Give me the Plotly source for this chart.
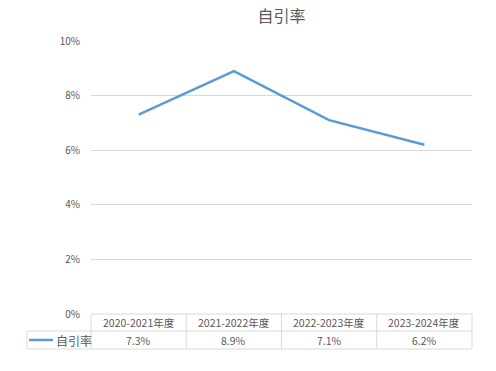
import plotly.graph_objects as go

categories = ["2020-2021年度", "2021-2022年度", "2022-2023年度", "2023-2024年度"]
values = [0.073, 0.089, 0.071, 0.062]
series_name = "自引率"
y_ticks = [0, 0.02, 0.04, 0.06, 0.08, 0.10]
y_tick_labels = ["0%", "2%", "4%", "6%", "8%", "10%"]

W, H = 496, 371
# desired page-pixel plot area (body margin removed via post_script)
PL, PR, PT, PB = 91, 472, 41, 314
L, T = PL, PT
R = W - PR
B = H - PB
pw, ph = W - L - R, H - T - B

def px_x(p):
    return (p - PL) / pw

def px_y(p):
    return (PB - p) / ph

line_color = "#5B9BD5"
grid_color = "#D9D9D9"
text_color = "#595959"
font_family = "Noto Sans CJK SC, Liberation Sans, sans-serif"

fig = go.Figure()
fig.add_trace(go.Scatter(
    x=list(range(len(categories))), y=values, mode="lines", name=series_name,
    line=dict(color=line_color, width=2.5), hoverinfo="skip", showlegend=False,
))

n = len(categories)
shapes = []
annotations = []
row1_top, row1_bot, row2_bot = px_y(314), px_y(331), px_y(349)
left_edge = px_x(27)
for yv, x0 in [(row1_top, 0), (row1_bot, left_edge), (row2_bot, left_edge)]:
    shapes.append(dict(type="line", xref="paper", yref="paper", x0=x0, x1=1, y0=yv, y1=yv,
                       line=dict(color=grid_color, width=1)))
for i in range(n + 1):
    xv = i / n
    shapes.append(dict(type="line", xref="paper", yref="paper", x0=xv, x1=xv, y0=row1_top, y1=row2_bot,
                       line=dict(color=grid_color, width=1)))
shapes.append(dict(type="line", xref="paper", yref="paper", x0=left_edge, x1=left_edge, y0=row1_bot, y1=row2_bot,
                   line=dict(color=grid_color, width=1)))
shapes.append(dict(type="line", xref="paper", yref="paper", x0=px_x(29), x1=px_x(53),
                   y0=(row1_bot + row2_bot) / 2, y1=(row1_bot + row2_bot) / 2,
                   line=dict(color=line_color, width=2.5)))
annotations.append(dict(xref="paper", yref="paper", x=px_x(54), y=(row1_bot + row2_bot) / 2,
                        text=series_name, showarrow=False, xanchor="left", yanchor="middle",
                        font=dict(size=12, color=text_color, family=font_family)))
for i, (c, v) in enumerate(zip(categories, values)):
    xc = (i + 0.5) / n
    annotations.append(dict(xref="paper", yref="paper", x=xc, y=(row1_top + row1_bot) / 2,
                            text=c, showarrow=False, xanchor="center", yanchor="middle",
                            font=dict(size=10.5, color=text_color, family=font_family)))
    annotations.append(dict(xref="paper", yref="paper", x=xc, y=(row1_bot + row2_bot) / 2,
                            text=f"{v*100:.1f}%", showarrow=False, xanchor="center", yanchor="middle",
                            font=dict(size=10.5, color=text_color, family=font_family)))

fig.update_layout(
    width=W, height=H,
    margin=dict(l=L, r=R, t=T, b=B, pad=0),
    paper_bgcolor="white", plot_bgcolor="white",
    title=dict(text=series_name, x=0.5, xref="paper", xanchor="center", y=1 - 16 / H, yanchor="middle",
               font=dict(size=16, color=text_color, family=font_family)),
    xaxis=dict(range=[-0.5, n - 0.5], showticklabels=False, showgrid=False, zeroline=False,
               showline=False, ticks="", fixedrange=True),
    yaxis=dict(range=[0, 0.10], tickvals=y_ticks, ticktext=y_tick_labels, showgrid=True,
               gridcolor=grid_color, gridwidth=1, zeroline=False, showline=False, ticks="",
               ticklabelstandoff=10, fixedrange=True,
               tickfont=dict(size=10, color=text_color, family=font_family)),
    shapes=shapes, annotations=annotations,
)
fig.write_html("out.html", post_script="document.body.style.margin='0';",
               config={"displayModeBar": False, "staticPlot": True})
